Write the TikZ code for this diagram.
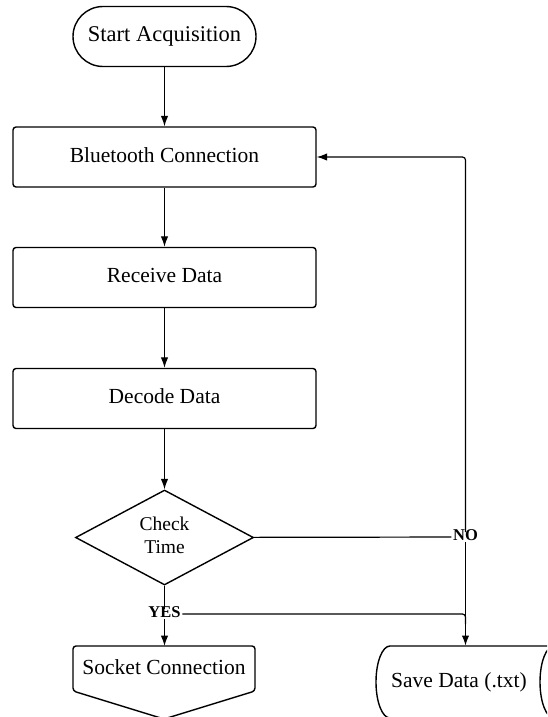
\documentclass[tikz,border=0pt]{standalone}
\usepackage{fontspec}
\setmainfont{Liberation Serif}
\usetikzlibrary{shapes.geometric,arrows.meta}
\begin{document}
\begin{tikzpicture}[x=1pt,y=-1pt,
 base/.style={font=\fontsize{21.5}{25}\selectfont, text height=1.05em, text depth=0pt, inner sep=0pt},
 procbox/.style={base, draw, line width=1.4pt, rounded corners=3pt, minimum width=303pt, minimum height=60pt},
 startbox/.style={base, draw, line width=1.4pt, rounded corners=30pt, minimum width=183pt, minimum height=60pt, font=\fontsize{22.5}{26}\selectfont},
 decision/.style={draw, diamond, line width=1.4pt, minimum width=178pt, minimum height=95pt, aspect=1.87, inner sep=0pt, align=center, text depth=4pt, font=\fontsize{19.5}{23}\selectfont},
 lbl/.style={font=\bfseries\fontsize{16.5}{18}\selectfont, inner sep=1.5pt, text height=0.66em, text depth=0pt},
 conn/.style={line width=1.2pt},
 arr/.style={conn, -{Latex[length=10.5pt,width=7.5pt]}},
 shapeline/.style={line width=1.4pt, line join=round},
]
\useasboundingbox (0,0) rectangle (547,717);
\clip (0,0) rectangle (547,717);

\node[startbox] (start) at (164.5,36.5) {Start Acquisition};
\node[procbox] (bt) at (164.5,157) {Bluetooth Connection};
\node[procbox] (rx) at (164.5,277.5) {Receive Data};
\node[procbox] (dec) at (164.5,398.5) {Decode Data};
\node[decision] (chk) at (164.5,537.5) {Check\\Time};
\node[lbl] (yes) at (164.5,614) {YES};
\node[lbl] (no) at (465.5,537) {NO};
\node[base] (sock) at (164,669) {Socket Connection};
\node[base] (save) at (459,682) {Save Data (.txt)};
\coordinate (sockN) at (164.5,646);
\coordinate (saveN) at (465.5,646);
\coordinate (yj) at (465.5,624);

% Socket connection (off-page connector)
\draw[shapeline, rounded corners=3pt] (164,646) -- (255,646) -- (255,691) -- (164,719) -- (73,691) -- (73,646) -- cycle;
% Save data (stored data)
\draw[shapeline] (560,718) -- (390,718) arc[start angle=270,end angle=90,x radius=14pt,y radius=36pt] -- (560,646);
\draw[shapeline] (554,646) arc[start angle=90,end angle=270,x radius=14pt,y radius=36pt];

% connectors
\draw[arr] (start) -- (bt);
\draw[arr] (bt) -- (rx);
\draw[arr] (rx) -- (dec);
\draw[arr] (dec) -- (chk);
\draw[conn] (chk) -- (yes);
\draw[arr] (yes) -- (sockN);
\draw[conn] (chk) -- (no);
\draw[arr, rounded corners=3pt] (no) |- (bt);
\draw[arr, line width=1.8pt] (no) -- (saveN);
\draw[conn, rounded corners=3pt] (yes) -| (yj);
\end{tikzpicture}
\end{document}
